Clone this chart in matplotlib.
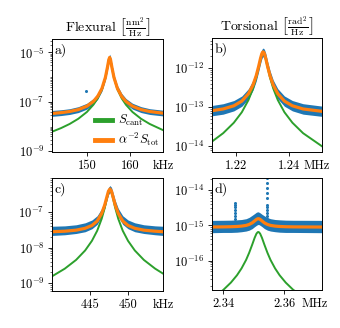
import matplotlib
matplotlib.use("Agg")
import matplotlib.pyplot as plt
from matplotlib.ticker import FixedLocator, LogLocator, NullFormatter

plt.rcParams['font.family'] = ['cmr10', 'DejaVu Serif']
plt.rcParams['mathtext.fontset'] = 'cm'
plt.rcParams['axes.formatter.use_mathtext'] = True
plt.rcParams['font.size'] = 9

BLUE = '#1f77b4'
ORANGE = '#ff7f0e'
GREEN = '#2ca02c'

# ---- panel a: flexural, low mode (kHz)
fa = [141.9, 144.0, 146.0, 148.0, 150.0, 151.5, 152.5, 153.5, 154.3, 154.8, 155.1,
      155.3, 155.5, 155.8, 156.3, 157.1, 158.1, 159.1, 160.6, 162.6, 164.6, 167.7]
cant_a = [6.2e-9, 8.7e-9, 1.28e-8, 2.07e-8, 3.9e-8, 7.6e-8, 1.38e-7, 3.2e-7, 9.4e-7, 2.6e-6, 5.1e-6,
          6.3e-6, 5.1e-6, 2.6e-6, 9.4e-7, 3.2e-7, 1.38e-7, 7.6e-8, 3.9e-8, 2.07e-8, 1.28e-8, 7.2e-9]
tot_a = [3.4e-8, 3.67e-8, 4.08e-8, 4.87e-8, 6.7e-8, 1.04e-7, 1.66e-7, 3.5e-7, 9.7e-7, 2.6e-6, 5.1e-6,
         6.3e-6, 5.1e-6, 2.6e-6, 9.7e-7, 3.5e-7, 1.66e-7, 1.04e-7, 6.7e-8, 4.87e-8, 4.08e-8, 3.5e-8]
lo_a = [2.6e-8, 2.8e-8, 3.1e-8, 3.7e-8, 5.1e-8, 8.0e-8, 1.28e-7, 2.7e-7, 7.5e-7, 2.0e-6, 3.9e-6,
        4.8e-6, 3.9e-6, 2.0e-6, 7.5e-7, 2.7e-7, 1.28e-7, 8.0e-8, 5.1e-8, 3.7e-8, 3.1e-8, 2.7e-8]
hi_a = [4.5e-8, 4.8e-8, 5.3e-8, 6.4e-8, 8.8e-8, 1.36e-7, 2.2e-7, 4.6e-7, 1.27e-6, 3.4e-6, 6.8e-6,
        8.5e-6, 6.8e-6, 3.4e-6, 1.27e-6, 4.6e-7, 2.2e-7, 1.36e-7, 8.8e-8, 6.4e-8, 5.3e-8, 4.6e-8]
out_fa = [149.9]
out_pa = [2.7e-7]

# ---- panel b: torsional, low mode (MHz)
fb = [1.2111, 1.2153, 1.2193, 1.2223, 1.2248, 1.2265, 1.2277, 1.2286, 1.2293, 1.2298, 1.2301, 1.2303,
      1.2305, 1.2308, 1.2313, 1.2320, 1.2329, 1.2341, 1.2358, 1.2383, 1.2413, 1.2453, 1.2524]
cant_b = [1.32e-14, 2.16e-14, 3.99e-14, 7.4e-14, 1.52e-13, 2.99e-13, 5.6e-13, 1.01e-12, 1.66e-12, 2.22e-12,
          2.45e-12, 2.5e-12, 2.45e-12, 2.22e-12, 1.66e-12, 1.01e-12, 5.6e-13, 2.99e-13, 1.52e-13, 7.4e-14,
          3.99e-14, 2.16e-14, 1.0e-14]
tot_b = [8.1e-14, 8.96e-14, 1.08e-13, 1.42e-13, 2.2e-13, 3.67e-13, 6.3e-13, 1.08e-12, 1.73e-12, 2.29e-12,
         2.52e-12, 2.57e-12, 2.52e-12, 2.29e-12, 1.73e-12, 1.08e-12, 6.3e-13, 3.67e-13, 2.2e-13, 1.42e-13,
         1.08e-13, 8.96e-14, 7.8e-14]
lo_b = [6.0e-14, 6.6e-14, 8.0e-14, 1.05e-13, 1.62e-13, 2.7e-13, 4.6e-13, 8.0e-13, 1.27e-12, 1.7e-12,
        1.9e-12, 1.9e-12, 1.9e-12, 1.7e-12, 1.27e-12, 8.0e-13, 4.6e-13, 2.7e-13, 1.62e-13, 1.05e-13,
        8.0e-14, 6.6e-14, 5.8e-14]
hi_b = [1.1e-13, 1.22e-13, 1.47e-13, 1.92e-13, 2.95e-13, 4.9e-13, 8.5e-13, 1.45e-12, 2.35e-12, 2.95e-12,
        3.15e-12, 3.2e-12, 3.15e-12, 2.95e-12, 2.35e-12, 1.45e-12, 8.5e-13, 4.9e-13, 2.95e-13, 1.92e-13,
        1.47e-13, 1.22e-13, 1.06e-13]

# ---- panel c: flexural, higher mode (kHz)
fc = [439.95, 441.65, 443.15, 444.35, 445.25, 445.95, 446.55, 446.95, 447.25, 447.45, 447.65,
      447.85, 448.05, 448.35, 448.75, 449.35, 450.05, 450.95, 452.15, 453.65, 454.7]
cant_c = [1.55e-9, 2.55e-9, 4.5e-9, 8.3e-9, 1.55e-8, 2.98e-8, 6.5e-8, 1.31e-7, 2.46e-7, 3.63e-7, 4.3e-7,
          3.63e-7, 2.46e-7, 1.31e-7, 6.5e-8, 2.98e-8, 1.55e-8, 8.3e-9, 4.5e-9, 2.55e-9, 1.85e-9]
tot_c = [2.8e-8, 2.9e-8, 3.1e-8, 3.5e-8, 4.2e-8, 5.6e-8, 9.2e-8, 1.58e-7, 2.73e-7, 3.9e-7, 4.5e-7,
         3.9e-7, 2.73e-7, 1.58e-7, 9.2e-8, 5.6e-8, 4.2e-8, 3.5e-8, 3.1e-8, 2.9e-8, 2.8e-8]
lo_c = [2.2e-8, 2.3e-8, 2.5e-8, 2.8e-8, 3.4e-8, 4.5e-8, 7.4e-8, 1.27e-7, 2.2e-7, 3.1e-7, 3.6e-7,
        3.1e-7, 2.2e-7, 1.27e-7, 7.4e-8, 4.5e-8, 3.4e-8, 2.8e-8, 2.5e-8, 2.3e-8, 2.2e-8]
hi_c = [4.0e-8, 4.1e-8, 4.4e-8, 5.0e-8, 6.0e-8, 7.9e-8, 1.27e-7, 2.15e-7, 3.6e-7, 5.0e-7, 5.6e-7,
        5.0e-7, 3.6e-7, 2.15e-7, 1.27e-7, 7.9e-8, 6.0e-8, 5.0e-8, 4.4e-8, 4.1e-8, 4.0e-8]

# ---- panel d: torsional, higher mode (MHz)
fd = [2.3363, 2.3400, 2.3425, 2.3445, 2.3460, 2.3475, 2.3485, 2.3495, 2.3503, 2.3509, 2.3513, 2.3515,
      2.3517, 2.3521, 2.3527, 2.3535, 2.3545, 2.3555, 2.3570, 2.3585, 2.3605, 2.3630, 2.3724]
cant_d = [8.7e-18, 1.5e-17, 2.42e-17, 3.9e-17, 6.1e-17, 1.06e-16, 1.68e-16, 2.85e-16, 4.45e-16, 5.83e-16,
          6.4e-16, 6.5e-16, 6.4e-16, 5.83e-16, 4.45e-16, 2.85e-16, 1.68e-16, 1.06e-16, 6.1e-17, 3.9e-17,
          2.42e-17, 1.5e-17, 4.6e-18]
tot_d = [8.99e-16, 9.05e-16, 9.14e-16, 9.29e-16, 9.51e-16, 9.96e-16, 1.06e-15, 1.175e-15, 1.335e-15, 1.47e-15,
         1.53e-15, 1.54e-15, 1.53e-15, 1.47e-15, 1.335e-15, 1.175e-15, 1.06e-15, 9.96e-16, 9.51e-16, 9.29e-16,
         9.14e-16, 9.05e-16, 8.95e-16]
lo_d = [6.2e-16, 6.3e-16, 6.3e-16, 6.4e-16, 6.6e-16, 6.9e-16, 7.3e-16, 8.1e-16, 9.2e-16, 1.0e-15,
        1.05e-15, 1.05e-15, 1.05e-15, 1.0e-15, 9.2e-16, 8.1e-16, 7.3e-16, 6.9e-16, 6.6e-16, 6.4e-16,
        6.3e-16, 6.3e-16, 6.2e-16]
hi_d = [1.38e-15, 1.39e-15, 1.4e-15, 1.43e-15, 1.46e-15, 1.54e-15, 1.68e-15, 1.92e-15, 2.15e-15, 2.35e-15,
        2.4e-15, 2.4e-15, 2.35e-15, 2.25e-15, 2.05e-15, 1.85e-15, 1.65e-15, 1.54e-15, 1.46e-15, 1.43e-15,
        1.4e-15, 1.39e-15, 1.38e-15]
spike1_f = 2.3438
spike1_p = [1.5e-15, 1.8e-15, 2.2e-15, 2.7e-15, 3.3e-15, 3.8e-15, 4.3e-15]
spike2_f = 2.3542
spike2_p = [1.5e-15, 1.8e-15, 2.2e-15, 2.7e-15, 3.3e-15, 3.8e-15, 5.9e-15, 8.3e-15, 1.15e-14, 1.6e-14, 2.2e-14]

panels = [
    dict(f=fa, cant=cant_a, tot=tot_a, lo=lo_a, hi=hi_a, xlim=(141.9, 167.7), ylim=(9.5e-10, 3.6e-5),
         xt=[150, 160], xtl=['150', '160'], yt=[1e-9, 1e-7, 1e-5], unit='kHz', ux=0.905, tag='a)',
         rect=[0.153, 0.537, 0.3265, 0.345]),
    dict(f=fb, cant=cant_b, tot=tot_b, lo=lo_b, hi=hi_b, xlim=(1.2111, 1.2524), ylim=(7.2e-15, 5.9e-12),
         xt=[1.22, 1.24], xtl=['1.22', '1.24'], yt=[1e-14, 1e-13, 1e-12], unit='MHz', ux=0.83, tag='b)',
         rect=[0.6235, 0.537, 0.3235, 0.348]),
    dict(f=fc, cant=cant_c, tot=tot_c, lo=lo_c, hi=hi_c, xlim=(439.95, 454.7), ylim=(6e-10, 9.3e-7),
         xt=[445, 450], xtl=['445', '450'], yt=[1e-9, 1e-8, 1e-7], unit='kHz', ux=0.905, tag='c)',
         rect=[0.153, 0.113, 0.3265, 0.345]),
    dict(f=fd, cant=cant_d, tot=tot_d, lo=lo_d, hi=hi_d, xlim=(2.3363, 2.3724), ylim=(1.5e-17, 2.2e-14),
         xt=[2.34, 2.36], xtl=['2.34', '2.36'], yt=[1e-16, 1e-15, 1e-14], unit='MHz', ux=0.815, tag='d)',
         rect=[0.6235, 0.116, 0.3235, 0.342]),
]

fig = plt.figure(figsize=(3.4, 3.28), dpi=100)
axes = []
for p in panels:
    ax = fig.add_axes(p['rect'])
    ax.fill_between(p['f'], p['lo'], p['hi'], color=BLUE, lw=0)
    ax.plot(p['f'], p['cant'], color=GREEN, lw=1.4, label=r'$S_\mathrm{cant}$')
    ax.plot(p['f'], p['tot'], color=ORANGE, lw=2.3, label=r'$\alpha^{-2}S_\mathrm{tot}$')
    ax.set_yscale('log')
    ax.set_xlim(*p['xlim'])
    ax.set_ylim(*p['ylim'])
    ax.set_xticks(p['xt'], p['xtl'])
    ax.yaxis.set_major_locator(FixedLocator(p['yt']))
    ax.yaxis.set_minor_locator(LogLocator(base=10, subs=range(1, 10), numticks=50))
    ax.yaxis.set_minor_formatter(NullFormatter())
    ax.tick_params(which='major', length=3, width=0.6, labelsize=9, pad=2.5)
    ax.tick_params(which='minor', length=1.5, width=0.4)
    for s in ax.spines.values():
        s.set_linewidth(0.7)
    ax.annotate(p['unit'], xy=(p['ux'], 0), xycoords='axes fraction', xytext=(0, -5.5),
                textcoords='offset points', ha='left', va='top', fontsize=9)
    ax.text(0.02, 0.955, p['tag'], transform=ax.transAxes, ha='left', va='top', fontsize=10)
    axes.append(ax)

axes[0].plot(out_fa, out_pa, 'o', color=BLUE, ms=2.2, mew=0)
axes[3].plot([spike1_f] * len(spike1_p), spike1_p, 'o', color=BLUE, ms=2.2, mew=0)
axes[3].plot([spike2_f] * len(spike2_p), spike2_p, 'o', color=BLUE, ms=2.2, mew=0)

axes[0].set_title(r'Flexural $\left[\frac{\mathrm{nm}^2}{\mathrm{Hz}}\right]$', fontsize=10, pad=2)
axes[1].set_title(r'Torsional $\left[\frac{\mathrm{rad}^2}{\mathrm{Hz}}\right]$', fontsize=10, pad=2)

axes[0].legend(loc='lower right', frameon=False, fontsize=9, handlelength=1.3, handletextpad=0.5,
               borderaxespad=0.1, labelspacing=0.2, borderpad=0.2)
leg = axes[0].get_legend()
for h in leg.get_lines():
    h.set_linewidth(3.5)

fig.savefig('out.png', dpi=100)
